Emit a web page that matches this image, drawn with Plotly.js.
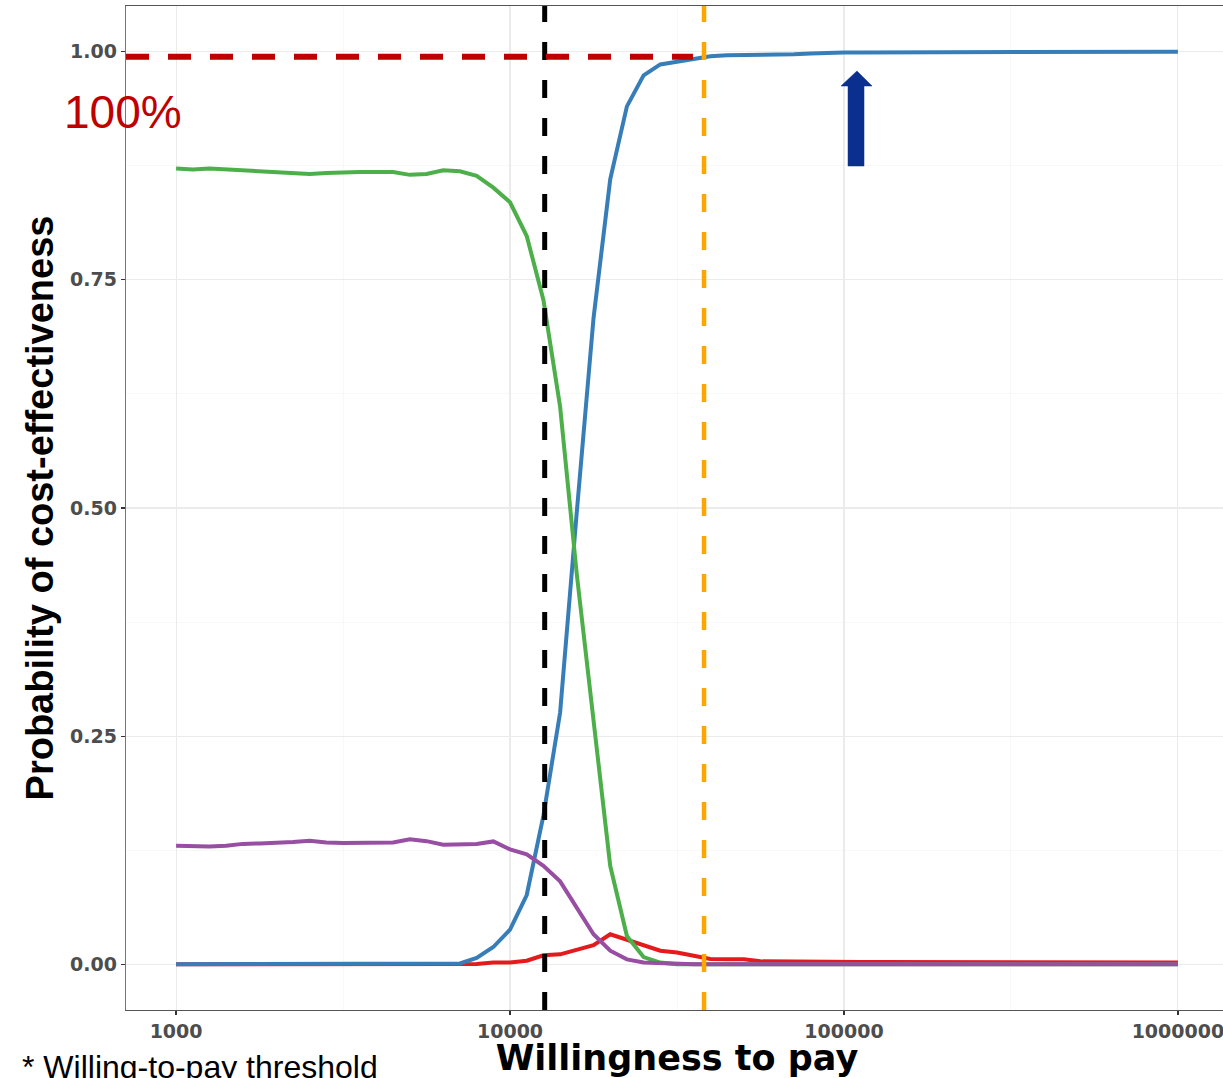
<!DOCTYPE html>
<html>
<head>
<meta charset="utf-8">
<script src="https://cdn.plot.ly/plotly-3.0.1.min.js"></script>
<style>
html,body{margin:0;padding:0;overflow:hidden;background:#fff;}
#chart{width:1228px;height:1078px;}
</style>
</head>
<body>
<div id="chart"></div>
<script>
// Willingness-to-pay grid (log10 steps of 0.05 from 10^3 to 10^6)
var wtpLog = [3.00,3.05,3.10,3.15,3.20,3.25,3.30,3.35,3.40,3.45,3.50,3.55,3.60,3.65,3.70,3.75,3.80,3.85,3.90,3.95,
              4.00,4.05,4.10,4.15,4.20,4.25,4.30,4.35,4.40,4.45,4.50,4.55,4.60,4.65,4.70,4.75,4.80,4.85,4.90,4.95,
              5.00,5.05,5.10,5.15,5.20,5.25,5.30,5.35,5.40,5.45,5.50,5.55,5.60,5.65,5.70,5.75,5.80,5.85,5.90,5.95,6.00];
var wtp = wtpLog.map(function(v){ return Math.pow(10, v); });

var blueSeries = [0,0,0,0,0,0,0,0,0,0,0,0,0,0,0,0,0,0.001,0.007,0.019,
                  0.038,0.076,0.163,0.276,0.496,0.708,0.860,0.940,0.974,0.986,0.989,0.992,0.995,0.996,0.996,0.997,0.997,0.997,0.998,0.999,
                  0.999,0.999,0.999,0.999,0.999,0.999,1.0,1.0,1.0,1.0,1.0,1.0,1.0,1.0,1.0,1.0,1.0,1.0,1.0,1.0,1.0];
var greenSeries = [0.872,0.871,0.872,0.871,0.869,0.869,0.868,0.867,0.866,0.867,0.868,0.868,0.868,0.868,0.865,0.866,0.870,0.869,0.864,0.851,
                   0.835,0.798,0.728,0.611,0.427,0.268,0.108,0.031,0.008,0.002,0,0,0,0,0,0,0,0,0,0,
                   0,0,0,0,0,0,0,0,0,0,0,0,0,0,0,0,0,0,0,0,0];
var purpleSeries = [0.130,0.129,0.129,0.130,0.132,0.1325,0.133,0.134,0.1355,0.1336,0.133,0.133,0.133,0.1336,0.137,0.135,0.131,0.132,0.132,0.1347,
                    0.126,0.1205,0.108,0.091,0.062,0.033,0.015,0.0055,0.002,0.001,0,0,0,0,0,0,0,0,0,0,
                    0,0,0,0,0,0,0,0,0,0,0,0,0,0,0,0,0,0,0,0,0];
var redSeries = [0,0,0,0,0,0,0,0,0,0,0,0,0,0,0,0,0,0,0.0005,0.002,
                 0.002,0.004,0.010,0.011,0.016,0.021,0.033,0.027,0.022,0.015,0.013,0.010,0.006,0.0055,0.0055,0.0033,0.003,0.0027,0.0025,0.0025,
                 0.0025,0.0025,0.0025,0.0025,0.0025,0.0023,0.002,0.002,0.002,0.002,0.002,0.002,0.002,0.002,0.002,0.002,0.002,0.002,0.002,0.002,0.002];

// Reference lines
var wtpThresholdLow = 12700;
var wtpThresholdHigh = 38100;
var vertSpan = [-0.05, 1.05];
var refLevelX = [708, 35300];
var refLevelY = [0.9945, 0.9945];

// Axis ticks
var xTickVals = [1000, 10000, 100000, 1000000];
var xTickText = ['1000', '10000', '100000', '1000000'];
var xMinorVals = [Math.pow(10,3.5), Math.pow(10,4.5), Math.pow(10,5.5)];
var yTickVals = [0, 0.25, 0.5, 0.75, 1.0];
var yTickText = ['0.00', '0.25', '0.50', '0.75', '1.00'];
var yMinorVals = [0.125, 0.375, 0.625, 0.875];

function curve(y, color){
  return {x: wtp, y: y, type: 'scatter', mode: 'lines',
          line: {color: color, width: 4}, hoverinfo: 'skip', showlegend: false};
}

var traces = [
  curve(redSeries, '#E41A1C'),
  curve(blueSeries, '#377EB8'),
  curve(greenSeries, '#4DAF4A'),
  curve(purpleSeries, '#984EA3'),
  {x: [wtpThresholdLow, wtpThresholdLow], y: [vertSpan[0], vertSpan[1]], type: 'scatter', mode: 'lines',
   line: {color: '#000000', width: 5, dash: '18px,20px'}, hoverinfo: 'skip', showlegend: false},
  {x: [wtpThresholdHigh, wtpThresholdHigh], y: [vertSpan[0], vertSpan[1]], type: 'scatter', mode: 'lines',
   line: {color: '#FFA500', width: 4.5, dash: '18px,20px'}, hoverinfo: 'skip', showlegend: false},
  {x: refLevelX, y: refLevelY, type: 'scatter', mode: 'lines',
   line: {color: '#C00000', width: 6, dash: '23px,19px'}, hoverinfo: 'skip', showlegend: false}
];

var layout = {
  width: 1228, height: 1078,
  margin: {l: 126, r: 0, t: 6, b: 68, pad: 0},
  paper_bgcolor: '#ffffff', plot_bgcolor: '#ffffff',
  showlegend: false,
  xaxis: {
    type: 'log', range: [2.85, 6.15],
    tickmode: 'array', tickvals: xTickVals, ticktext: xTickText,
    ticks: 'outside', ticklen: 4, tickwidth: 1.2, tickcolor: '#333333',
    tickfont: {family: 'DejaVu Sans', size: 19, color: '#4D4D4D', weight: 'bold'},
    showgrid: true, gridcolor: '#EBEBEB', gridwidth: 1.1,
    minor: {tickmode: 'array', tickvals: xMinorVals, showgrid: true, gridcolor: '#F3F3F3', gridwidth: 0.6, ticks: ''},
    zeroline: false, showline: true, linecolor: '#555555', linewidth: 1.2, mirror: true,
    title: {text: 'Willingness to pay', font: {family: 'DejaVu Sans', size: 35, color: '#000000', weight: 'bold'}, standoff: 8},
    automargin: false
  },
  yaxis: {
    range: [-0.05, 1.05],
    tickmode: 'array', tickvals: yTickVals, ticktext: yTickText,
    ticks: 'outside', ticklen: 4, tickwidth: 1.2, tickcolor: '#333333',
    tickfont: {family: 'DejaVu Sans', size: 19, color: '#4D4D4D', weight: 'bold'},
    showgrid: true, gridcolor: '#EBEBEB', gridwidth: 1.1,
    minor: {tickmode: 'array', tickvals: yMinorVals, showgrid: true, gridcolor: '#F3F3F3', gridwidth: 0.6, ticks: ''},
    zeroline: false, showline: true, linecolor: '#777777', linewidth: 1.2, mirror: true,
    title: {text: 'Probability of cost-effectiveness', font: {family: 'Liberation Sans, Arial', size: 38, color: '#000000', weight: 'bold'}, standoff: 4},
    automargin: false
  },
  shapes: [
    {type: 'path', xref: 'paper', yref: 'paper',
     path: 'M 0.6552 0.8406 L 0.6552 0.9203 L 0.6488 0.9203 L 0.6633 0.9353 L 0.6770 0.9203 L 0.6697 0.9203 L 0.6697 0.8406 Z',
     fillcolor: '#0A2F8F', line: {color: '#0A2F8F', width: 0.5}}
  ],
  annotations: [
    {text: '100%', xref: 'paper', yref: 'paper', x: -0.0027, y: 0.8944, xanchor: 'center', yanchor: 'middle',
     showarrow: false, font: {family: 'Liberation Sans, Arial', size: 46, color: '#C00000'}},
    {text: '* Willing-to-pay threshold', xref: 'paper', yref: 'paper', x: -0.0962, y: -0.0568, xanchor: 'left', yanchor: 'middle',
     showarrow: false, font: {family: 'Liberation Sans, Arial', size: 32, color: '#000000'}}
  ]
};

Plotly.newPlot('chart', traces, layout, {displayModeBar: false, staticPlot: true});
</script>
</body>
</html>
